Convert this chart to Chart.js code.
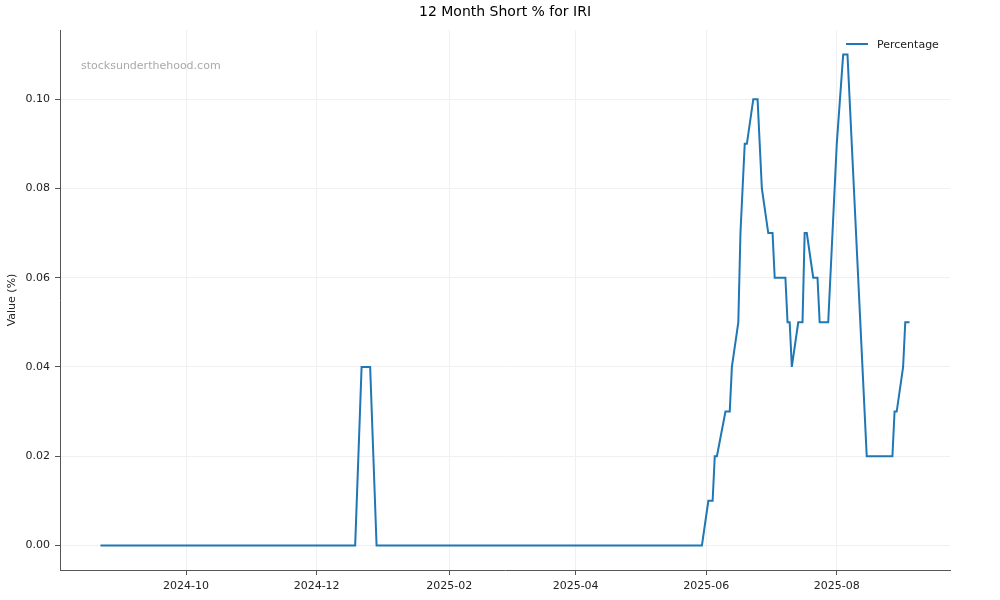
<!DOCTYPE html>
<html>
<head>
<meta charset="utf-8">
<title>12 Month Short % for IRI</title>
<script src="https://cdn.jsdelivr.net/npm/chart.js@4.4.1/dist/chart.umd.min.js"></script>
<style>
    body { margin: 0; background: #fff; }
    #wrap { width: 1000px; height: 600px; }
</style>
</head>
<body>
<div id="wrap"><canvas id="shortChart" width="1000" height="600"></canvas></div>
<script>
// Dados (datas e % de short)
const dates = [
    '2024-08-22', '2024-12-19', '2024-12-22', '2024-12-26', '2024-12-29',
    '2025-05-30', '2025-06-02', '2025-06-04', '2025-06-05', '2025-06-06',
    '2025-06-10', '2025-06-12', '2025-06-13', '2025-06-16', '2025-06-17',
    '2025-06-19', '2025-06-20', '2025-06-23', '2025-06-25', '2025-06-27',
    '2025-06-30', '2025-07-02', '2025-07-03', '2025-07-08', '2025-07-09',
    '2025-07-10', '2025-07-11', '2025-07-14', '2025-07-16', '2025-07-17',
    '2025-07-18', '2025-07-21', '2025-07-23', '2025-07-24', '2025-07-28',
    '2025-08-01', '2025-08-04', '2025-08-06', '2025-08-15',
    '2025-08-27', '2025-08-28', '2025-08-29', '2025-09-01', '2025-09-02',
    '2025-09-04'
];
const shortPct = [
    0, 0, 0.04, 0.04, 0,
    0, 0.01, 0.01, 0.02, 0.02,
    0.03, 0.03, 0.04, 0.05, 0.07,
    0.09, 0.09, 0.10, 0.10, 0.08,
    0.07, 0.07, 0.06, 0.06, 0.05,
    0.05, 0.04, 0.05, 0.05, 0.07,
    0.07, 0.06, 0.06, 0.05, 0.05,
    0.09, 0.11, 0.11, 0.02,
    0.02, 0.03, 0.03, 0.04, 0.05,
    0.05
];
const xTickLabels = ['2024-10', '2024-12', '2025-02', '2025-04', '2025-06', '2025-08'];
const yTickValues = [0, 0.02, 0.04, 0.06, 0.08, 0.10];

// Converte 'AAAA-MM-DD' em número de dias
function toDay(s) {
    const [y, m, d] = s.split('-').map(Number);
    return Date.UTC(y, m - 1, d || 1) / 86400000;
}

const points = dates.map((d, i) => ({ x: toDay(d), y: shortPct[i] }));
const xTicks = xTickLabels.map(toDay);

// margens de 5% como no matplotlib
const xFirst = points[0].x, xLast = points[points.length - 1].x;
const xPad = (xLast - xFirst) * 0.05;
const yMaxData = Math.max(...shortPct), yMinData = Math.min(...shortPct);
const yPad = (yMaxData - yMinData) * 0.05;

const FONT = "'DejaVu Sans', sans-serif";

const extrasPlugin = {
    id: 'extras',
    afterDraw(chart) {
        const ctx = chart.ctx;
        const area = chart.chartArea;
        ctx.save();
        // Título
        ctx.fillStyle = '#000';
        ctx.font = '14px ' + FONT;
        ctx.textAlign = 'center';
        ctx.textBaseline = 'middle';
        ctx.fillText('12 Month Short % for IRI', (area.left + area.right) / 2, 12);
        // Marca d'água
        ctx.fillStyle = '#a9a9a9';
        ctx.font = '11px ' + FONT;
        ctx.textAlign = 'left';
        ctx.fillText('stocksunderthehood.com', 81, 66);
        // Legenda
        ctx.strokeStyle = '#1f77b4';
        ctx.lineWidth = 2;
        ctx.beginPath();
        ctx.moveTo(846, 44);
        ctx.lineTo(868, 44);
        ctx.stroke();
        ctx.fillStyle = '#222';
        ctx.fillText('Percentage', 877, 45);
        ctx.restore();
    }
};

new Chart(document.getElementById('shortChart'), {
    type: 'line',
    data: {
        datasets: [{
            label: 'Percentage',
            data: points,
            borderColor: '#1f77b4',
            borderWidth: 2,
            pointRadius: 0,
            tension: 0,
            fill: false
        }]
    },
    options: {
        responsive: false,
        animation: false,
        layout: { padding: { top: 30, right: 50, left: 0, bottom: 0 } },
        plugins: {
            legend: { display: false },
            title: { display: false },
            tooltip: { enabled: false }
        },
        scales: {
            x: {
                type: 'linear',
                min: xFirst - xPad,
                max: xLast + xPad,
                afterBuildTicks: scale => { scale.ticks = xTicks.map(v => ({ value: v })); },
                afterFit: scale => { scale.height = 30; },
                ticks: {
                    autoSkip: false,
                    maxRotation: 0,
                    padding: 5,
                    color: '#222',
                    font: { family: FONT, size: 11 },
                    callback: value => xTickLabels[xTicks.indexOf(value)]
                },
                grid: { color: '#f0f0f0', tickColor: '#555', tickLength: 5 },
                border: { color: '#555', width: 1 }
            },
            y: {
                type: 'linear',
                min: yMinData - yPad,
                max: yMaxData + yPad,
                afterBuildTicks: scale => { scale.ticks = yTickValues.map(v => ({ value: v })); },
                afterFit: scale => { scale.width = 60; },
                ticks: {
                    padding: 5,
                    color: '#222',
                    font: { family: FONT, size: 11 },
                    callback: value => value.toFixed(2)
                },
                grid: { color: '#f0f0f0', tickColor: '#555', tickLength: 5 },
                border: { color: '#555', width: 1 },
                title: {
                    display: true,
                    text: 'Value (%)',
                    color: '#222',
                    font: { family: FONT, size: 11 },
                    padding: { top: 6 }
                }
            }
        }
    },
    plugins: [extrasPlugin]
});
</script>
</body>
</html>
